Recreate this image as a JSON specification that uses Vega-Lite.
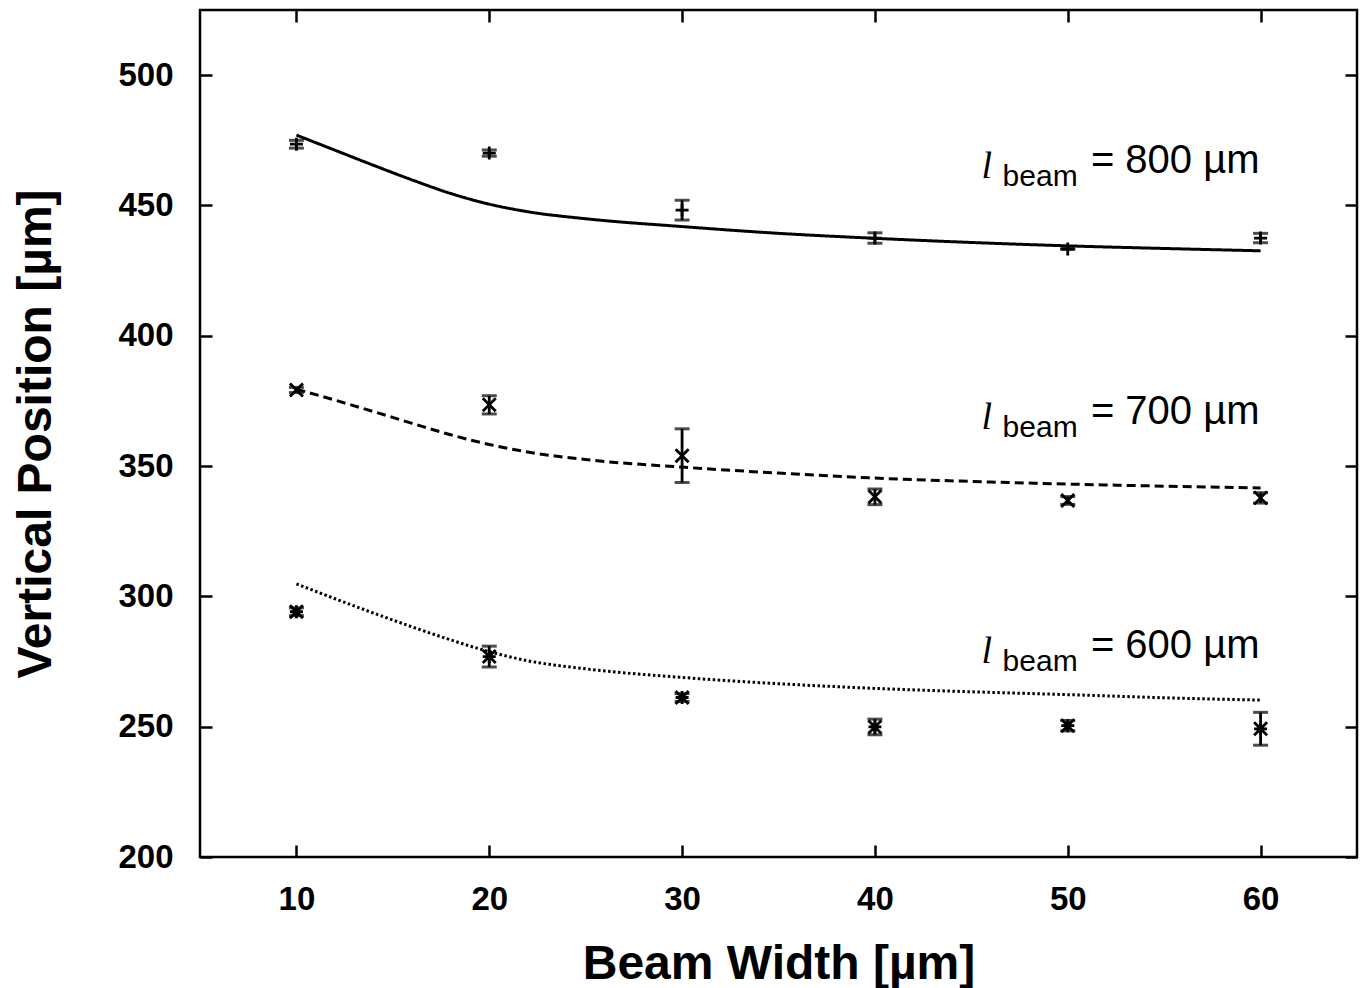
{
  "$schema": "https://vega.github.io/schema/vega-lite/v6.json",
  "width": 1157,
  "height": 847,
  "autosize": "none",
  "padding": {"left": 200, "top": 10, "right": 6, "bottom": 131},
  "background": "white",
  "config": {
    "view": {"stroke": "black", "strokeWidth": 2.5},
    "font": "Liberation Sans"
  },
  "datasets": {
    "pts": [
      {"s": "800", "x": 10, "y": 473.5, "lo": 472.0, "hi": 475.0},
      {"s": "800", "x": 20, "y": 470.1, "lo": 468.9, "hi": 471.3},
      {"s": "800", "x": 30, "y": 448.2, "lo": 444.4, "hi": 452.0},
      {"s": "800", "x": 40, "y": 437.5, "lo": 435.5, "hi": 439.5},
      {"s": "800", "x": 50, "y": 433.3, "lo": 433.3, "hi": 433.3},
      {"s": "800", "x": 60, "y": 437.5, "lo": 435.7, "hi": 439.3},
      {"s": "700", "x": 10, "y": 379.2, "lo": 378.2, "hi": 380.2},
      {"s": "700", "x": 20, "y": 373.5, "lo": 370.0, "hi": 377.0},
      {"s": "700", "x": 30, "y": 354.0, "lo": 343.7, "hi": 364.3},
      {"s": "700", "x": 40, "y": 338.2, "lo": 335.2, "hi": 341.2},
      {"s": "700", "x": 50, "y": 336.8, "lo": 335.3, "hi": 338.3},
      {"s": "700", "x": 60, "y": 337.8, "lo": 335.8, "hi": 339.8},
      {"s": "600", "x": 10, "y": 294.1, "lo": 292.6, "hi": 295.6},
      {"s": "600", "x": 20, "y": 276.9, "lo": 272.9, "hi": 280.9},
      {"s": "600", "x": 30, "y": 261.2, "lo": 259.7, "hi": 262.7},
      {"s": "600", "x": 40, "y": 249.9, "lo": 246.9, "hi": 252.9},
      {"s": "600", "x": 50, "y": 250.4, "lo": 248.4, "hi": 252.4},
      {"s": "600", "x": 60, "y": 249.2, "lo": 242.9, "hi": 255.5}
    ],
    "curves": [
      {"s": "800", "x": 10, "y": 477.0}, {"s": "800", "x": 12, "y": 471.2}, {"s": "800", "x": 14, "y": 465.4},
      {"s": "800", "x": 16, "y": 459.8}, {"s": "800", "x": 18, "y": 454.6}, {"s": "800", "x": 20, "y": 450.5},
      {"s": "800", "x": 22, "y": 447.6}, {"s": "800", "x": 25, "y": 444.9}, {"s": "800", "x": 30, "y": 441.9},
      {"s": "800", "x": 35, "y": 439.3}, {"s": "800", "x": 40, "y": 437.4}, {"s": "800", "x": 45, "y": 435.8},
      {"s": "800", "x": 50, "y": 434.5}, {"s": "800", "x": 55, "y": 433.5}, {"s": "800", "x": 60, "y": 432.6},
      {"s": "700", "x": 10, "y": 379.5}, {"s": "700", "x": 12, "y": 375.3}, {"s": "700", "x": 14, "y": 370.9},
      {"s": "700", "x": 16, "y": 366.4}, {"s": "700", "x": 18, "y": 362.0}, {"s": "700", "x": 20, "y": 358.3},
      {"s": "700", "x": 22, "y": 355.4}, {"s": "700", "x": 25, "y": 352.5}, {"s": "700", "x": 30, "y": 349.6},
      {"s": "700", "x": 35, "y": 347.3}, {"s": "700", "x": 40, "y": 345.4}, {"s": "700", "x": 45, "y": 344.1},
      {"s": "700", "x": 50, "y": 343.1}, {"s": "700", "x": 55, "y": 342.3}, {"s": "700", "x": 60, "y": 341.6},
      {"s": "600", "x": 10, "y": 304.8}, {"s": "600", "x": 12, "y": 299.1}, {"s": "600", "x": 14, "y": 293.6},
      {"s": "600", "x": 16, "y": 288.3}, {"s": "600", "x": 18, "y": 283.3}, {"s": "600", "x": 20, "y": 278.8},
      {"s": "600", "x": 22, "y": 275.3}, {"s": "600", "x": 25, "y": 272.2}, {"s": "600", "x": 30, "y": 268.9},
      {"s": "600", "x": 35, "y": 266.5}, {"s": "600", "x": 40, "y": 264.7}, {"s": "600", "x": 45, "y": 263.4},
      {"s": "600", "x": 50, "y": 262.3}, {"s": "600", "x": 55, "y": 261.1}, {"s": "600", "x": 60, "y": 260.2}
    ],
    "labels": [
      {"s": "800", "x": 60, "y": 462.5, "l": "l", "sub": "beam", "rest": "= 800 µm"},
      {"s": "700", "x": 60, "y": 366.1, "l": "l", "sub": "beam", "rest": "= 700 µm"},
      {"s": "600", "x": 60, "y": 276.5, "l": "l", "sub": "beam", "rest": "= 600 µm"}
    ]
  },
  "layer": [
    {
      "layer": [
        {
          "data": {"name": "curves"},
          "mark": {"type": "line", "color": "black", "strokeWidth": 3, "interpolate": "monotone"},
          "encoding": {
            "x": {
              "field": "x", "type": "quantitative",
              "scale": {"domain": [5, 65], "nice": false, "zero": false},
              "axis": {
                "title": "Beam Width [µm]",
                "values": [10, 20, 30, 40, 50, 60],
                "grid": false, "domain": false,
                "tickSize": -12, "tickWidth": 2.5, "tickColor": "black",
                "labelFont": "Liberation Sans", "labelFontSize": 33, "labelFontWeight": "bold", "labelColor": "black",
                "labelBaseline": "alphabetic", "labelPadding": 64.5,
                "titleFont": "Liberation Sans", "titleFontSize": 48, "titleFontWeight": "bold", "titleColor": "black",
                "titleX": 578.5, "titleY": 121, "titleBaseline": "alphabetic", "titleAlign": "center"
              }
            },
            "y": {
              "field": "y", "type": "quantitative",
              "scale": {"domain": [200, 525], "nice": false, "zero": false},
              "axis": {
                "title": "Vertical Position [µm]",
                "values": [200, 250, 300, 350, 400, 450, 500],
                "grid": false, "domain": false,
                "tickSize": -12, "tickWidth": 2.5, "tickColor": "black",
                "labelFont": "Liberation Sans", "labelFontSize": 33, "labelFontWeight": "bold", "labelColor": "black",
                "labelBaseline": "middle", "labelPadding": 39,
                "titleFont": "Liberation Sans", "titleFontSize": 48, "titleFontWeight": "bold", "titleColor": "black",
                "titleX": -150, "titleY": 423.5, "titleAngle": -90, "titleBaseline": "alphabetic", "titleAlign": "center"
              }
            },
            "detail": {"field": "s", "type": "nominal"},
            "strokeDash": {
              "field": "s", "type": "nominal",
              "scale": {"domain": ["800", "700", "600"], "range": [[1, 0], [9, 5], [2.5, 2.5]]},
              "legend": null
            }
          }
        },
        {
          "data": {"name": "pts"},
          "mark": {"type": "rule", "color": "black", "strokeWidth": 2.8},
          "encoding": {
            "x": {"field": "x", "type": "quantitative"},
            "y": {"field": "lo", "type": "quantitative"},
            "y2": {"field": "hi"}
          }
        },
        {
          "data": {"name": "pts"},
          "mark": {"type": "tick", "orient": "horizontal", "color": "black", "size": 15, "thickness": 3},
          "encoding": {
            "x": {"field": "x", "type": "quantitative"},
            "y": {"field": "lo", "type": "quantitative"}
          }
        },
        {
          "data": {"name": "pts"},
          "mark": {"type": "tick", "orient": "horizontal", "color": "black", "size": 15, "thickness": 3},
          "encoding": {
            "x": {"field": "x", "type": "quantitative"},
            "y": {"field": "hi", "type": "quantitative"}
          }
        },
        {
          "data": {"name": "pts"},
          "mark": {"type": "point", "filled": false, "stroke": "black", "strokeWidth": 2.8, "size": 169, "opacity": 1},
          "encoding": {
            "x": {"field": "x", "type": "quantitative"},
            "y": {"field": "y", "type": "quantitative"},
            "shape": {
              "field": "s", "type": "nominal",
              "scale": {
                "domain": ["800", "700", "600"],
                "range": [
                  "M-1,0L1,0M0,-1L0,1",
                  "M-1,-1L1,1M-1,1L1,-1",
                  "M-1,0L1,0M0,-1L0,1M-1,-1L1,1M-1,1L1,-1"
                ]
              },
              "legend": null
            }
          }
        },
        {
          "data": {"name": "labels"},
          "mark": {"type": "text", "align": "right", "baseline": "alphabetic", "dx": -1, "font": "Liberation Sans", "fontSize": 40, "color": "black"},
          "encoding": {
            "x": {"field": "x", "type": "quantitative"},
            "y": {"field": "y", "type": "quantitative"},
            "text": {"field": "rest"}
          }
        },
        {
          "data": {"name": "labels"},
          "mark": {"type": "text", "align": "left", "baseline": "alphabetic", "dx": -258, "dy": 13, "font": "Liberation Sans", "fontSize": 30, "color": "black"},
          "encoding": {
            "x": {"field": "x", "type": "quantitative"},
            "y": {"field": "y", "type": "quantitative"},
            "text": {"field": "sub"}
          }
        },
        {
          "data": {"name": "labels"},
          "mark": {"type": "text", "align": "left", "baseline": "alphabetic", "dx": -279, "dy": 5, "font": "Liberation Serif", "fontStyle": "italic", "fontSize": 38, "color": "black"},
          "encoding": {
            "x": {"field": "x", "type": "quantitative"},
            "y": {"field": "y", "type": "quantitative"},
            "text": {"field": "l"}
          }
        }
      ]
    },
    {
      "data": {"name": "curves"},
      "mark": {"type": "point", "opacity": 0},
      "encoding": {
        "x": {
          "field": "x", "type": "quantitative",
          "axis": {"orient": "top", "title": null, "labels": false, "values": [10, 20, 30, 40, 50, 60], "grid": false, "domain": false, "tickSize": -12, "tickWidth": 2.5, "tickColor": "black"}
        },
        "y": {
          "field": "y", "type": "quantitative",
          "axis": {"orient": "right", "title": null, "labels": false, "values": [200, 250, 300, 350, 400, 450, 500], "grid": false, "domain": false, "tickSize": -12, "tickWidth": 2.5, "tickColor": "black"}
        }
      }
    }
  ],
  "resolve": {"axis": {"x": "independent", "y": "independent"}}
}
